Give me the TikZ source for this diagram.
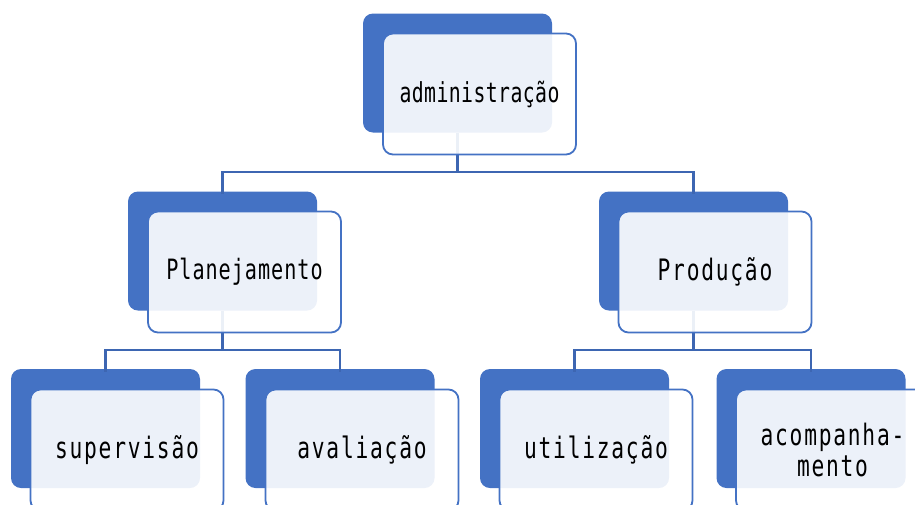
\documentclass[tikz,border=0pt]{standalone}
\usepackage{fontspec}
\newfontfamily\gothic[FakeStretch=0.72]{DejaVu Sans Mono}
\definecolor{accent}{HTML}{4472C4}
\definecolor{linkblue}{HTML}{3D66B2}
\tikzset{
  backbox/.style={fill=accent, rounded corners=10pt, inner sep=0pt,
    minimum width=189pt, minimum height=119pt},
  frontbox/.style={draw=accent, line width=1.8pt, fill=white, fill opacity=0.9,
    text opacity=1, rounded corners=10pt, inner sep=0pt, align=center,
    minimum width=193pt, minimum height=121pt, text=black},
  link/.style={draw=linkblue, line width=2.2pt},
  label/.style 2 args={font=\gothic\fontsize{#1}{31}\selectfont\addfontfeatures{LetterSpace=#2}},
}
\begin{document}
\begin{tikzpicture}[x=1pt, y=-1pt]
  \useasboundingbox (0,0) rectangle (915,504);
  \clip (0,0) rectangle (915,504);

  % dark back plates
  \node[backbox] (b0) at (457.5,73) {};
  \node[backbox] (b1) at (222.5,251) {};
  \node[backbox] (b2) at (693.5,251) {};
  \node[backbox] (b11) at (105.5,428.5) {};
  \node[backbox] (b12) at (340,428.5) {};
  \node[backbox] (b21) at (574.5,428.5) {};
  \node[backbox] (b22) at (811,428.5) {};

  % tree connectors
  \coordinate (j0) at (457.5,172);
  \coordinate (j1) at (222.5,350);
  \coordinate (j2) at (693.5,350);
  \draw[link] (b0.south) -- (j0);
  \draw[link] (j0) -| ([yshift=-3pt]b1.north);
  \draw[link] (j0) -| ([yshift=-3pt]b2.north);
  \draw[link] (b1.south) -- (j1);
  \draw[link] (j1) -| ([yshift=-3pt]b11.north);
  \draw[link] (j1) -| ([yshift=-3pt]b12.north);
  \draw[link] (b2.south) -- (j2);
  \draw[link] (j2) -| ([yshift=-3pt]b21.north);
  \draw[link] (j2) -| ([yshift=-3pt]b22.north);

  % translucent front cards with labels
  \node[frontbox, label={27.5}{1.5}] (n0) at (479.5,94) {administração};
  \node[frontbox, label={28}{3.5}] (n1) at (244.5,272) {Planejamento};
  \node[frontbox, label={29.5}{6}] (n2) at (715,272) {Produção};
  \node[frontbox, label={29.5}{6}] (n11) at (127,450) {supervisão};
  \node[frontbox, label={29.5}{6}] (n12) at (362,450) {avaliação};
  \node[frontbox, label={29.5}{6}] (n21) at (596,450) {utilização};
  \node[frontbox, label={29.5}{6}] (n22) at (832.5,450) {acompanha-\\mento};
\end{tikzpicture}
\end{document}
